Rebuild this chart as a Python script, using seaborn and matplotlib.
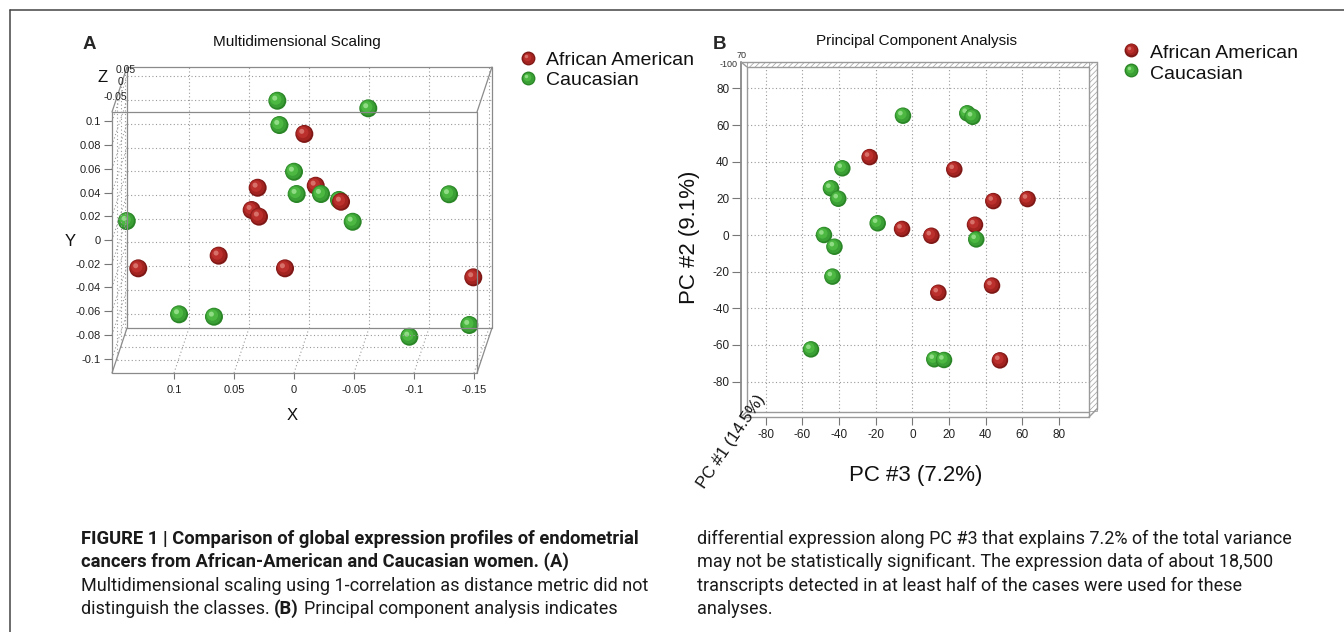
import numpy as np
import pandas as pd
import seaborn as sns
import matplotlib
matplotlib.use("Agg")
import matplotlib.pyplot as plt
from matplotlib.lines import Line2D
from matplotlib.patches import Rectangle
import matplotlib.transforms as mtransforms
from matplotlib import font_manager

# ---------------- data ----------------
groups = ["African American", "Caucasian"]

# Panel A: multidimensional scaling, projected X / Y coordinates (drawing order)
mds_group = (["Caucasian"] + ["African American"] * 10 + ["Caucasian"] * 13)
mds_x = [-0.0375,
         -0.0086, 0.0303, -0.0181, -0.0392, 0.0353, 0.0292, 0.0628, 0.0075, 0.1298, -0.1494,
         0.0139, -0.0619, 0.0122, 0.0000, -0.0022, -0.0225, -0.0489, -0.1292, 0.1394,
         0.0958, 0.0667, -0.0961, -0.1461]
mds_y = [0.0338,
         0.0895, 0.0441, 0.0458, 0.0323, 0.0253, 0.0197, -0.0132, -0.0239, -0.0239, -0.0315,
         0.1175, 0.1111, 0.0970, 0.0576, 0.0388, 0.0388, 0.0154, 0.0386, 0.0160,
         -0.0627, -0.0647, -0.0816, -0.0717]
mds_xticks = [0.1, 0.05, 0.0, -0.05, -0.1, -0.15]
mds_xticklabels = ["0.1", "0.05", "0", "-0.05", "-0.1", "-0.15"]
mds_yticks = [0.1, 0.08, 0.06, 0.04, 0.02, 0.0, -0.02, -0.04, -0.06, -0.08, -0.1]
mds_yticklabels = ["0.1", "0.08", "0.06", "0.04", "0.02", "0", "-0.02", "-0.04",
                   "-0.06", "-0.08", "-0.1"]
mds_zticklabels = ["0.05", "0", "-0.05"]

# Panel B: principal component analysis (PC #3 vs PC #2)
pca_group = ["African American"] * 10 + ["Caucasian"] * 14
pca_pc3 = [-23.3, 22.9, 44.2, 62.9, -5.6, 10.4, 34.2, 14.2, 43.5, 47.8,
           -5.1, 30.0, 32.9, -38.2, -44.4, -40.4, -18.9, -48.2, -42.5, -43.6,
           -55.3, 12.0, 17.3, 34.9]
pca_pc2 = [42.5, 35.8, 18.5, 19.6, 3.3, -0.4, 5.6, -31.5, -27.6, -68.4,
           65.1, 66.4, 64.5, 36.4, 25.5, 19.8, 6.4, 0.0, -6.4, -22.7,
           -62.4, -67.8, -68.2, -2.4]
pca_ticks = [-80, -60, -40, -20, 0, 20, 40, 60, 80]

# caption lines: list of (segment, weight) runs
caption_left = [
    [("FIGURE 1 | Comparison of global expression profiles of endometrial", "bold")],
    [("cancers from African-American and Caucasian women. (A)", "bold")],
    [("Multidimensional scaling using 1-correlation as distance metric did not", "normal")],
    [("distinguish the classes.", "normal"), ("(B)", "bold"),
     ("Principal component analysis indicates", "normal")],
]
caption_right = [
    [("differential expression along PC #3 that explains 7.2% of the total variance", "normal")],
    [("may not be statistically significant. The expression data of about 18,500", "normal")],
    [("transcripts detected in at least half of the cases were used for these", "normal")],
    [("analyses.", "normal")],
]

# ---------------- style ----------------
sns.set_theme(style="white")
plt.rcParams['font.family'] = ['Liberation Sans', 'DejaVu Sans']
plt.rcParams['hatch.linewidth'] = 0.5

SHADES = {
    "African American": ['#7e1816', '#a32320', '#bb302c', '#d8706a'],
    "Caucasian": ['#2a8526', '#3a9f34', '#4cb842', '#8fdc84'],
}

W, H = 1344, 632
fig = plt.figure(figsize=(W / 100, H / 100), dpi=100)
fig.patch.set_facecolor('white')


def fx(px):
    return px / W


def fy(py):
    return 1 - py / H


def fig_line(xs, ys, **kw):
    fig.add_artist(Line2D([fx(x) for x in xs], [fy(y) for y in ys],
                          transform=fig.transFigure, **kw))


def ftext(px, py, s, **kw):
    return fig.text(fx(px), fy(py), s, **kw)


def draw_balls(ax, xs, ys, grp, diam_px):
    s_full = (diam_px * 0.72) ** 2
    fracs = [1.0, 0.86, 0.62, 0.28]
    offs = [0.0, 0.6, 1.5, 2.6]
    for i, (x, y, g) in enumerate(zip(xs, ys, grp)):
        for k, (fr, off) in enumerate(zip(fracs, offs)):
            tr = ax.transData + mtransforms.ScaledTranslation(-off / 100, off / 100,
                                                               fig.dpi_scale_trans)
            sns.scatterplot(x=[x], y=[y], s=s_full * fr ** 2, color=SHADES[g][k],
                            edgecolor='none', linewidth=0, ax=ax, legend=False,
                            zorder=3 + i * 0.01 + k * 0.001, clip_on=False, transform=tr)


# frame
fig_line([10, 10], [632, 10], color='#444444', lw=1.1)
fig_line([10, 1344], [10, 10], color='#444444', lw=1.1)

# ================= Panel A =================
A_L, A_R, A_T, A_B = 112, 477, 112, 373
DX, DY = 15, 45
axA = fig.add_axes([fx(A_L), fy(A_B), (A_R - A_L) / W, (A_B - A_T) / H])
axA.set_xlim(0.1517, -0.1525)
axA.set_ylim(-0.1122, 0.108)
for sp in axA.spines.values():
    sp.set_visible(False)
axA.patch.set_alpha(0)
axA.set_xticks(mds_xticks, mds_xticklabels)
axA.set_yticks(mds_yticks, mds_yticklabels)
axA.tick_params(bottom=True, left=True, direction='out', color='#777777', width=0.8,
                labelsize=8, labelcolor='#222222')
axA.tick_params(axis='x', length=4.5, pad=4)
axA.tick_params(axis='y', length=6, pad=2)
axA.set_xlabel("")
axA.set_ylabel("")

box_kw = dict(color='#8a8a8a', lw=0.9)
fig_line([A_L, A_R, A_R, A_L, A_L], [A_T, A_T, A_B, A_B, A_T], **box_kw)
fig_line([A_L + DX, A_R + DX, A_R + DX, A_L + DX, A_L + DX],
         [A_T - DY, A_T - DY, A_B - DY, A_B - DY, A_T - DY], **box_kw)
for (cx, cy) in [(A_L, A_T), (A_R, A_T), (A_L, A_B), (A_R, A_B)]:
    fig_line([cx, cx + DX], [cy, cy - DY], **box_kw)

grid_kw = dict(color='#9a9a9a', lw=0.8, ls=(0, (1, 2.2)))
back = axA.transData + mtransforms.ScaledTranslation(DX / 100, DY / 100, fig.dpi_scale_trans)
xl, yl = axA.get_xlim(), axA.get_ylim()
for t in mds_yticks:
    axA.plot(xl, [t, t], transform=back, clip_on=False, zorder=1, **grid_kw)
for t in mds_xticks:
    axA.plot([t, t], yl, transform=back, clip_on=False, zorder=1, **grid_kw)
to_fig = fig.transFigure.inverted()
for t in mds_yticks:
    p0 = axA.transData.transform((xl[0], t))
    p1 = p0 + np.array([DX, DY])
    q0, q1 = to_fig.transform(p0), to_fig.transform(p1)
    fig.add_artist(Line2D([q0[0], q1[0]], [q0[1], q1[1]], transform=fig.transFigure, **grid_kw))
for t in mds_xticks:
    p0 = axA.transData.transform((t, yl[0]))
    p1 = p0 + np.array([DX, DY])
    q0, q1 = to_fig.transform(p0), to_fig.transform(p1)
    fig.add_artist(Line2D([q0[0], q1[0]], [q0[1], q1[1]], transform=fig.transFigure, **grid_kw))
for f in [0.3, 0.58, 0.85]:
    fig_line([A_L + DX * f, A_L + DX * f], [A_B - DY * f, A_T - DY * f], **grid_kw)
    fig_line([A_L + DX * f, A_R + DX * f], [A_B - DY * f, A_B - DY * f], **grid_kw)

draw_balls(axA, mds_x, mds_y, mds_group, 18)

ftext(89.5, 49, "A", fontsize=13.5, weight='bold', ha='center', va='baseline')
ftext(297, 46, "Multidimensional Scaling", fontsize=11, ha='center', va='baseline',
      color='#111111')
ftext(70, 242, "Y", fontsize=12, ha='center', va='center', color='#111111')
ftext(292, 415, "X", fontsize=12, ha='center', va='center', color='#111111')
ftext(103, 78, "Z", fontsize=12, ha='center', va='center', color='#111111')
for (zx, zy), lab in zip([(125.5, 70), (121, 82), (115, 97)], mds_zticklabels):
    ftext(zx, zy, lab, fontsize=7.5, ha='center', va='center', color='#222222')

# ================= Panel B =================
B_L, B_R, B_T, B_B = 741, 1093, 62, 417
axB = fig.add_axes([fx(B_L), fy(B_B), (B_R - B_L) / W, (B_B - B_T) / H])
axB.set_xlim(-93.5, 98.6)
axB.set_ylim(-99.3, 94.4)
for sp in axB.spines.values():
    sp.set_visible(False)
axB.patch.set_alpha(0)
axB.set_xticks(pca_ticks, [str(t) for t in pca_ticks])
axB.set_yticks(pca_ticks, [str(t) for t in pca_ticks])
axB.tick_params(bottom=True, left=True, direction='out', color='#777777', width=0.8,
                labelsize=8.5, labelcolor='#222222')
axB.tick_params(axis='x', length=6, pad=3)
axB.tick_params(axis='y', length=6.5, pad=2)
ix0, ix1 = (746.7 - B_L) / (B_R - B_L), (1089 - B_L) / (B_R - B_L)
iy0, iy1 = (B_B - 411.7) / (B_B - B_T), (B_B - 66.7) / (B_B - B_T)
for t in pca_ticks:
    axB.axhline(t, ix0, ix1, zorder=1, **grid_kw)
    axB.axvline(t, iy0, iy1, zorder=1, **grid_kw)

bkw = dict(color='#9a9a9a', lw=1.0)
fig_line([741, 741], [62, 417], color='#888888', lw=1.3)
fig_line([746.7, 746.7], [66.7, 411.7], **bkw)
fig_line([741, 1089], [417, 417], **bkw)
fig_line([746.7, 1089], [411.7, 411.7], **bkw)
fig_line([746.7, 1089], [66.7, 66.7], **bkw)
fig_line([741, 1097], [61.7, 61.7], **bkw)
fig_line([1089, 1089], [66.7, 417], **bkw)
fig_line([1097, 1097], [61.7, 409], **bkw)
fig_line([1089, 1097], [417, 409], **bkw)
fig_line([741, 746.7], [62, 66.7], **bkw)
fig_line([741, 746.7], [417, 411.7], **bkw)
for (x0, y0, x1, y1) in [(746.7, 61.7, 1097, 66.7), (1089, 61.7, 1097, 411)]:
    fig.add_artist(Rectangle((fx(x0), fy(y1)), (x1 - x0) / W, (y1 - y0) / H,
                             transform=fig.transFigure, facecolor='white',
                             edgecolor='#a0a0a0', hatch='//////', lw=0.6))

draw_balls(axB, pca_pc3, pca_pc2, pca_group, 16.5)

ftext(720, 49, "B", fontsize=13.5, weight='bold', ha='center', va='baseline')
ftext(917, 45, "Principal Component Analysis", fontsize=11, ha='center', va='baseline',
      color='#111111')
ftext(690, 237, "PC #2 (9.1%)", fontsize=16, rotation=90, ha='center', va='center',
      color='#111111')
ftext(916, 475, "PC #3 (7.2%)", fontsize=16, ha='center', va='center', color='#111111')
ftext(731, 442, "PC #1 (14.5%)", fontsize=12, rotation=56, ha='center', va='center',
      color='#111111', rotation_mode='anchor')
# crowded depth-axis labels at the top-left corner of the box
ftext(738, 64.5, "-100", fontsize=6.5, ha='right', va='center', color='#333333')
ftext(742, 55, "70", fontsize=6.5, ha='center', va='center', color='#333333')

# ================= legends =================
def legend_ball(px, py, g, ms=10):
    for k, (fr, off) in enumerate(zip([1.0, 0.82, 0.55, 0.25], [0, 0.4, 1.0, 1.8])):
        fig.add_artist(Line2D([fx(px - off)], [fy(py - off)], marker='o', ms=ms * fr,
                              color=SHADES[g][k], mec='none', transform=fig.transFigure))


for (mx, tx, ys) in [(528, 546, [(58, 65), (78, 85)]), (1131, 1150, [(49.5, 58), (70, 79)])]:
    for g, (my, by) in zip(groups, ys):
        legend_ball(mx, my, g)
        ftext(tx, by, g, fontsize=14, ha='left', va='baseline', color='#111111')

# ================= caption =================
names = {f.name for f in font_manager.fontManager.ttflist}
cap_family = next((f for f in ['Roboto', 'Liberation Sans'] if f in names), 'DejaVu Sans')
renderer = fig.canvas.get_renderer()


def text_width(s, size, weight):
    t = fig.text(0, 0, s, fontsize=size, family=cap_family, weight=weight)
    w = t.get_window_extent(renderer).width
    t.remove()
    return w


size_b = 12 * 540 / text_width(caption_left[0][0][0], 12, 'bold') * 1.03
size_r = 12 * 609 / text_width(caption_right[0][0][0], 12, 'normal') * 0.97
sizes = {'bold': size_b, 'normal': size_r}
space = text_width("a a", size_r, 'normal') - text_width("aa", size_r, 'normal')
baselines = [544, 567, 591, 614]


def draw_column(x0, lines):
    for runs, by in zip(lines, baselines):
        x = x0
        for s, w in runs:
            ftext(x, by, s, fontsize=sizes[w], weight=w, family=cap_family, va='baseline',
                  color='#1a1a1a')
            x += text_width(s, sizes[w], w) + space


draw_column(81, caption_left)
draw_column(697, caption_right)

fig.savefig("out.png", dpi=100, facecolor='white')
